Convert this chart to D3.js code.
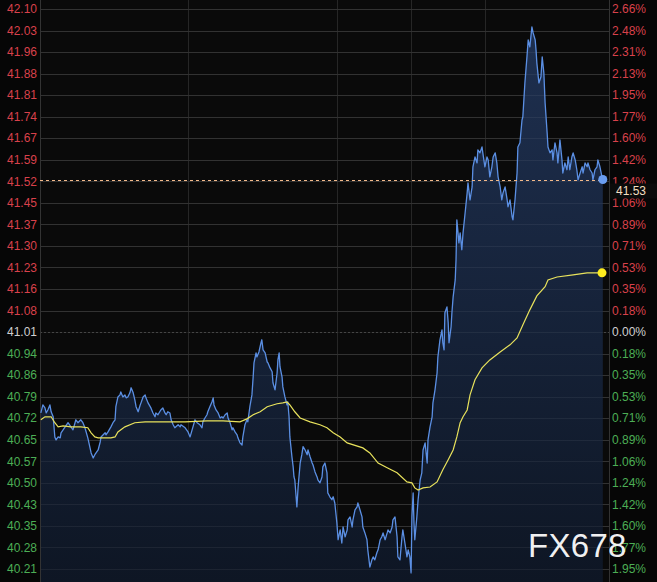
<!DOCTYPE html>
<html><head><meta charset="utf-8">
<script src="https://cdn.jsdelivr.net/npm/d3@7"></script>
<style>
html,body{margin:0;padding:0;background:#060606;}
svg{display:block;}
</style></head><body>
<svg id="chart" width="657" height="582"></svg>
<script>
// ---------- data ----------
const prevClose = 41.01;
const pctStep = 0.001773;        // one gridline step, fraction of previous close
const stepsUp = 15, stepsDown = 11;
const sessionMinutes = 1380;     // 23-hour session
const gridTimes = [360, 720, 900, 1080];
const priceLabels = ["42.10","42.03","41.96","41.88","41.81","41.74","41.67","41.59","41.52","41.45","41.37","41.30","41.23","41.16","41.08","41.01","40.94","40.86","40.79","40.72","40.65","40.57","40.50","40.43","40.35","40.28","40.21"];
const pctLabels = ["2.66%","2.48%","2.31%","2.13%","1.95%","1.77%","1.60%","1.42%","1.24%","1.06%","0.89%","0.71%","0.53%","0.35%","0.18%","0.00%","0.18%","0.35%","0.53%","0.71%","0.89%","1.06%","1.24%","1.42%","1.60%","1.77%","1.95%"];
const lastPriceLabel = "41.53";
const watermark = "FX678";

// minutes since session open
const times = [
2,7,12,15,19,24,27,32,36,39, 44,49,51,61,68,75,80,85,87,92, 99,104,109,116,124,129,133,141,146,148,
158,160,165,172,177,182,184,189,194,196, 201,206,209,213,218,221,226,230,233,238, 243,245,250,255,257,262,269,274,279,281,
286,293,298,303,306,310,315,318,323,327, 335,340,342,352,359, 364,371,376,381,388,
393,395,400,405,407,412,417,420,422,427, 432,437,441,444,449,454,456,461,466,468, 473,478,480,485,490,492,497,502,504,509,
514,517,519,524,526,531,536,538,541,546, 551,553,558,563,565,570,575,577,580,582, 587,589,594,599,601,604,606,611,614,616,
618,623,626,631,635,638,643,648,650,655, 660,662,667,672,674,679,684,686,691,696, 698,703,708,
711,715,720,723,728,732,735, 740,745,747,752,757,759,764,769,771,776, 781,783,788,793,795,800,805,808,812,817,
820,825,829,832,837,842,844,849,854,856, 861,866,868,873,878,880,885,890,893,897, 900,902,905,907,909,914,917,922,926,929,
934,939,941,946,951,953,958,963,965,970, 975,977,980,982,987,990,992,997,999,1002, 1007,1009,1011,1016,
1019,1023,1026,1031,1036,1038, 1043,1048,1050,1055,1060,1062,1067,1072,1074,1079, 1084,1087,1091,1096,1099,1104,1108,1111,1116,1120,
1123,1128,1133,1135,1140,1145,1147,1152,1157,1159, 1164,1169,1171,1176,1181,1184,1188,1193,1196,1201, 1203,1205,1210,1215,1218,1222,1225,1230,1232,1237,
1242,1244,1249,1254,1256,1261,1266,1268,1273,1278, 1281,1285,1290,1293,1298,1302,1305,1310,1315,1317, 1322,1327,1329,1334,1339,1341,1346,1351,1353,1358,
1363,1365];
const prices = [
40.737,40.764,40.754,40.737,40.747,40.764,40.741,40.724,40.656,40.646, 40.656,40.653,40.670,40.690,40.704,40.690,40.680,40.704,40.714,40.704,
40.714,40.704,40.687,40.653,40.602,40.585,40.596,40.612,40.639,40.656, 40.670,40.663,40.673,40.690,40.704,40.714,40.758,40.791,40.798,40.808,
40.791,40.798,40.788,40.791,40.805,40.822,40.805,40.781,40.758,40.741, 40.764,40.771,40.791,40.798,40.788,40.771,40.754,40.737,40.724,40.737,
40.731,40.747,40.754,40.737,40.731,40.741,40.737,40.714,40.697,40.687, 40.697,40.690,40.697,40.687,40.673, 40.656,40.690,40.714,40.704,40.697,
40.687,40.707,40.720,40.731,40.741,40.758,40.774,40.788,40.764,40.747, 40.737,40.720,40.724,40.720,40.731,40.737,40.720,40.704,40.680,40.687,
40.673,40.663,40.653,40.636,40.629,40.656,40.697,40.714,40.707,40.758, 40.798,40.859,40.906,40.940,40.926,40.943,40.974,40.984,40.950,40.940,
40.909,40.906,40.889,40.876,40.839,40.815,40.872,40.916,40.940,40.893, 40.859,40.825,40.791,40.764,40.774,40.724,40.656,40.589,40.555,40.521,
40.511,40.420,40.487,40.568,40.596,40.623,40.612,40.596,40.612,40.589, 40.568,40.562,40.538,40.521,40.511,40.501,40.521,40.555,40.568,40.535,
40.467,40.454,40.444, 40.454,40.433,40.366,40.309,40.342,40.298,40.352,
40.319,40.342,40.376,40.386,40.352,40.376,40.410,40.420,40.433,40.410, 40.386,40.352,40.332,40.309,40.275,40.217,40.241,40.251,40.241,40.265,
40.275,40.309,40.319,40.332,40.309,40.332,40.342,40.332,40.352,40.376, 40.386,40.319,40.251,40.241,40.319,40.342,40.298,40.251,40.275,40.251,
40.197,40.386,40.467,40.366,40.309,40.386,40.444,40.511,40.535,40.612, 40.636,40.568,40.646,40.690,40.724,40.771,40.815,40.872,40.926,40.984,
41.017,40.974,40.950,41.075,41.095,41.041,40.974,41.028,41.075,41.129, 41.186,41.254,41.389,41.311,
41.345,41.288,41.345,41.412,41.480,41.514,
41.456,41.500,41.568,41.601,41.581,41.625,41.615,41.635,41.615,41.568, 41.601,41.591,41.534,41.568,41.601,41.615,41.581,41.534,41.500,41.456,
41.480,41.500,41.456,41.433,41.456,41.399,41.389,41.456,41.547,41.635, 41.649,41.726,41.736,41.851,41.939,41.996,41.973,42.040,42.020,41.996,
41.963,41.919,41.851,41.872,41.939,41.885,41.784,41.682,41.635,41.615, 41.625,41.591,41.649,41.615,41.581,41.659,41.591,41.547,41.581,41.558,
41.601,41.558,41.601,41.615,41.591,41.558,41.524,41.547,41.568,41.547, 41.581,41.568,41.581,41.558,41.547,41.524,41.558,41.568,41.591,41.568,
41.534,41.525];

const avgTimes = [2,12,27,36,44,56,75,99,116,124,133,141,158,172,182,189,206,230,255,286,318,352,405,444,485,502,517,534,551,575,589,599,606,618,631,655,679,696,711,728,745,783,800,820,842,866,890,902,909,917,929,946,963,977,990,1002,1011,1019,1026,1036,1043,1055,1072,1091,1116,1140,1157,1171,1188,1205,1225,1232,1254,1293,1327,1363];
const avgPrices = [40.714,40.724,40.724,40.704,40.690,40.693,40.690,40.690,40.687,40.670,40.656,40.653,40.653,40.653,40.656,40.673,40.690,40.704,40.707,40.707,40.707,40.707,40.710,40.710,40.707,40.717,40.731,40.741,40.758,40.768,40.771,40.774,40.764,40.741,40.720,40.707,40.697,40.687,40.670,40.656,40.636,40.619,40.602,40.568,40.552,40.535,40.504,40.501,40.484,40.477,40.484,40.487,40.504,40.545,40.579,40.612,40.656,40.704,40.724,40.747,40.798,40.849,40.889,40.916,40.943,40.967,40.990,41.034,41.085,41.132,41.163,41.186,41.196,41.203,41.210,41.210];

// ---------- layout ----------
const W = 657, H = 582;
const plotL = 40, plotR = 609, gridTop = 9, gridBottom = 569;
const font = "'Liberation Sans', Arial, sans-serif";
const upColor = "#d9414b", downColor = "#4cae55", flatColor = "#cfcfcf";

const svg = d3.select("#chart");
const x = d3.scaleLinear().domain([0, sessionMinutes]).range([plotL, plotR]);
const y = d3.scaleLinear()
  .domain([prevClose * (1 - stepsDown * pctStep), prevClose * (1 + stepsUp * pctStep)])
  .range([gridBottom, gridTop]);
const tickLevels = d3.range(stepsUp, -stepsDown - 1, -1);   // 15 .. -11

svg.append("rect").attr("width", W).attr("height", H).attr("fill", "#060606");
svg.append("rect").attr("x", plotL).attr("y", 0).attr("width", plotR - plotL).attr("height", H).attr("fill", "#0a0a0a");

const defs = svg.append("defs");
const grad = defs.append("linearGradient").attr("id", "areaGrad")
  .attr("gradientUnits", "userSpaceOnUse").attr("x1", 0).attr("x2", 0).attr("y1", 0).attr("y2", H);
grad.append("stop").attr("offset", 0).attr("stop-color", "#1f3152");
grad.append("stop").attr("offset", 1).attr("stop-color", "#0e1624");

// grid
const g = svg.append("g");
tickLevels.forEach(k => {
  const yy = Math.round(y(prevClose * (1 + k * pctStep))) + 0.5;
  g.append("line").attr("x1", plotL).attr("x2", plotR).attr("y1", yy).attr("y2", yy)
    .attr("stroke", k === 0 ? "#3a3a3a" : "#262626").attr("stroke-width", 1)
    .attr("stroke-dasharray", k === 0 ? "2,2" : null);
});
gridTimes.forEach(t => {
  const xx = Math.round(x(t)) + 0.5;
  g.append("line").attr("x1", xx).attr("x2", xx).attr("y1", 0).attr("y2", H)
    .attr("stroke", "#262626");
});

const pts = times.map((t, i) => [t, prices[i]]).filter(d => d[1] !== undefined);
const avgPts = avgTimes.map((t, i) => [t, avgPrices[i]]).filter(d => d[1] !== undefined);

// area under price
svg.append("path").datum(pts)
  .attr("d", d3.area().x(d => x(d[0])).y0(H).y1(d => y(d[1])))
  .attr("fill", "url(#areaGrad)");

// grid over area (faint)
tickLevels.forEach(k => {
  const yy = Math.round(y(prevClose * (1 + k * pctStep))) + 0.5;
  svg.append("line").attr("x1", plotL).attr("x2", plotR).attr("y1", yy).attr("y2", yy)
    .attr("stroke", "#ffffff").attr("stroke-opacity", 0.06);
});

// borders
[plotL, plotR].forEach(xx => {
  svg.append("line").attr("x1", xx + 0.5).attr("x2", xx + 0.5).attr("y1", 0).attr("y2", H)
    .attr("stroke", "#333333");
});

// price line
svg.append("path").datum(pts)
  .attr("d", d3.line().x(d => x(d[0])).y(d => y(d[1])))
  .attr("fill", "none").attr("stroke", "#5b8fe3").attr("stroke-width", 1.3)
  .attr("stroke-linejoin", "round");

// average line
svg.append("path").datum(avgPts)
  .attr("d", d3.line().x(d => x(d[0])).y(d => y(d[1])))
  .attr("fill", "none").attr("stroke", "#e8e25c").attr("stroke-width", 1.2);

// last price dashed line
const last = pts[pts.length - 1];
const yl = Math.round(y(last[1])) + 0.5;
svg.append("line").attr("x1", plotL).attr("x2", plotR).attr("y1", yl).attr("y2", yl)
  .attr("stroke", "#f2b98a").attr("stroke-width", 1).attr("stroke-dasharray", "3,3");

// end dots
svg.append("circle").attr("cx", x(last[0])).attr("cy", y(last[1])).attr("r", 4.5).attr("fill", "#6a9df0");
const lastAvg = avgPts[avgPts.length - 1];
svg.append("circle").attr("cx", x(lastAvg[0])).attr("cy", y(lastAvg[1])).attr("r", 4.5).attr("fill", "#fdec1f");

// axis labels
tickLevels.forEach((k, i) => {
  const yy = y(prevClose * (1 + k * pctStep));
  const col = k > 0 ? upColor : (k < 0 ? downColor : flatColor);
  svg.append("text").attr("x", plotL - 3).attr("y", yy).attr("dy", "0.35em")
    .attr("text-anchor", "end").attr("fill", col)
    .style("font", `12px ${font}`).text(priceLabels[i]);
  svg.append("text").attr("x", plotR + 3).attr("y", yy).attr("dy", "0.35em")
    .attr("fill", col).style("font", `12px ${font}`).text(pctLabels[i]);
});

// last price label box
svg.append("rect").attr("x", plotR + 1).attr("y", yl + 3).attr("width", W - plotR - 1).attr("height", 15)
  .attr("fill", "#0b0b0b");
svg.append("text").attr("x", plotR + 7).attr("y", yl + 10.5).attr("dy", "0.35em")
  .attr("fill", "#f3dfc0").style("font", `12px ${font}`).text(lastPriceLabel);

// watermark
svg.append("text").attr("x", 528).attr("y", 557).attr("fill", "#ffffff").attr("fill-opacity", 0.95)
  .attr("letter-spacing", "0.3px")
  .style("font", `33px ${font}`).text(watermark);
</script>
</body></html>
